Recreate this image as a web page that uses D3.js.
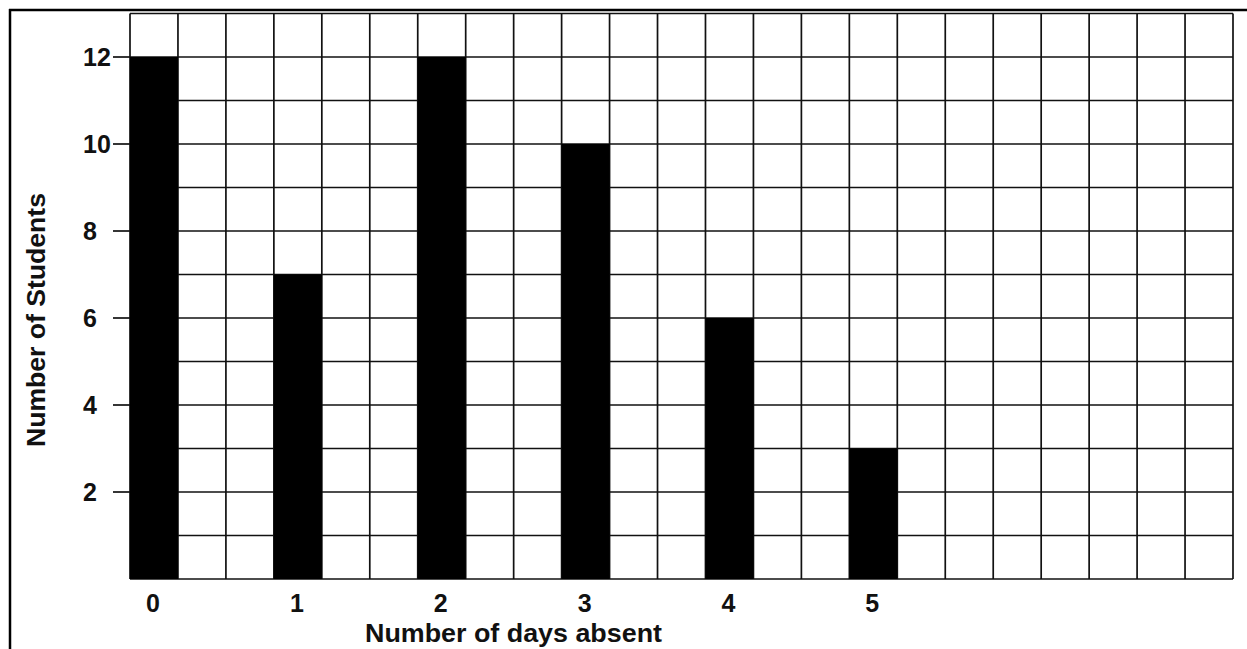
<!DOCTYPE html>
<html>
<head>
<meta charset="utf-8">
<script src="https://cdn.jsdelivr.net/npm/d3@7"></script>
<style>
  html, body { margin: 0; padding: 0; background: #fff; }
  svg { display: block; }
  text { font-family: "Liberation Sans", Arial, sans-serif; font-weight: bold; fill: #111; }
</style>
</head>
<body>
<script>
const categories = ["0", "1", "2", "3", "4", "5"];
const values = [12, 7, 12, 10, 6, 3];
const yTickValues = [2, 4, 6, 8, 10, 12];
const xTitle = "Number of days absent";
const yTitle = "Number of Students";

const W = 1247, H = 649;
const mLeft = 130, mRight = 1233, mTop = 13.5, mBottom = 579;
const nCols = 23, yMax = 13;

const svg = d3.select("body").append("svg").attr("width", W).attr("height", H);

const gx = d3.scaleLinear().domain([0, nCols]).range([mLeft, mRight]);
const y = d3.scaleLinear().domain([0, yMax]).range([mBottom, mTop]);
const colW = gx(1) - gx(0);
const x = d3.scaleBand().domain(categories)
  .range([mLeft, mLeft + 16 * colW]).paddingInner(2 / 3).paddingOuter(0);

// frame
svg.append("line").attr("x1", 10).attr("x2", 10).attr("y1", 9).attr("y2", H)
  .attr("stroke", "#000").attr("stroke-width", 2.5);
svg.append("line").attr("x1", 9).attr("x2", W).attr("y1", 10).attr("y2", 10)
  .attr("stroke", "#000").attr("stroke-width", 2.5);

// grid
const grid = svg.append("g").attr("stroke", "#111").attr("stroke-width", 1.7);
grid.selectAll("line.v").data(d3.range(0, nCols + 1)).join("line")
  .attr("class", "v")
  .attr("x1", d => gx(d)).attr("x2", d => gx(d))
  .attr("y1", mTop).attr("y2", mBottom);
grid.selectAll("line.h").data(d3.range(0, yMax + 1)).join("line")
  .attr("class", "h")
  .attr("x1", mLeft).attr("x2", mRight)
  .attr("y1", d => y(d)).attr("y2", d => y(d));

// bars
svg.append("g").selectAll("rect").data(values).join("rect")
  .attr("x", (d, i) => x(categories[i]))
  .attr("width", x.bandwidth())
  .attr("y", d => y(d))
  .attr("height", d => y(0) - y(d))
  .attr("fill", "#000");

// y ticks
const yt = svg.append("g");
yt.selectAll("line").data(yTickValues).join("line")
  .attr("x1", mLeft - 17).attr("x2", mLeft)
  .attr("y1", d => y(d)).attr("y2", d => y(d))
  .attr("stroke", "#111").attr("stroke-width", 1.7);
yt.selectAll("text").data(yTickValues).join("text")
  .attr("x", 83).attr("y", d => y(d)).attr("dy", "0.36em")
  .attr("font-size", 25).text(d => d);

// x labels
svg.append("g").selectAll("text").data(categories).join("text")
  .attr("x", d => x(d) + x.bandwidth() / 2 - 1)
  .attr("y", 612).attr("text-anchor", "middle")
  .attr("font-size", 25).text(d => d);

// titles
svg.append("text").attr("x", 365).attr("y", 642)
  .attr("font-size", 25).attr("textLength", 297).attr("lengthAdjust", "spacingAndGlyphs")
  .text(xTitle);
svg.append("text")
  .attr("transform", "translate(45,447) rotate(-90)")
  .attr("font-size", 25).attr("textLength", 254).attr("lengthAdjust", "spacingAndGlyphs")
  .text(yTitle);
</script>
</body>
</html>
